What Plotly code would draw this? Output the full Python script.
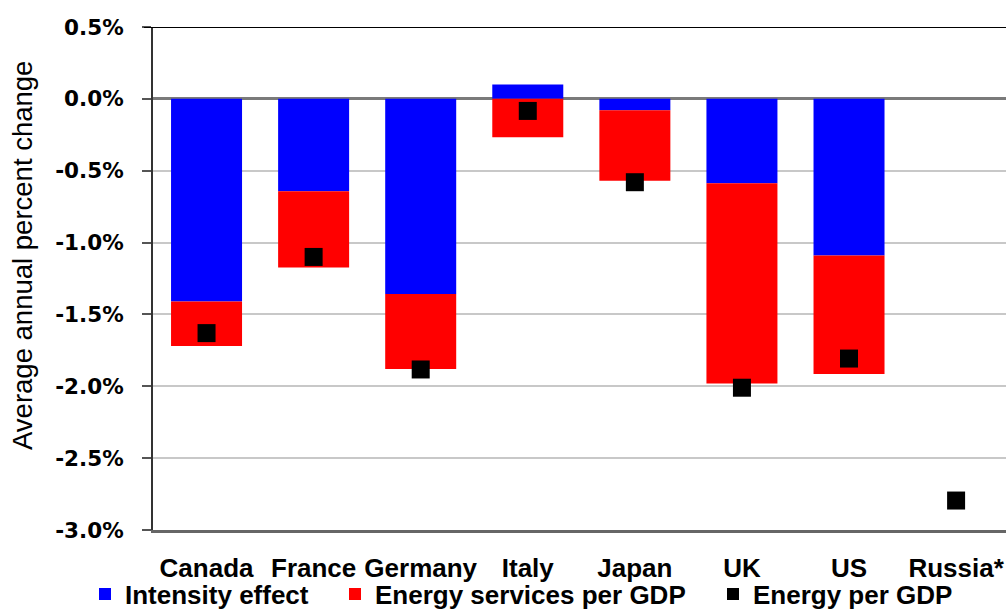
import plotly.graph_objects as go

# G7 + Russia: decomposition of the annual change in energy per GDP (%/yr)
countries = ["Canada", "France", "Germany", "Italy", "Japan", "UK", "US", "Russia*"]
intensity_effect = [-1.41, -0.643, -1.358, 0.10, -0.079, -0.588, -1.09, None]
energy_services_per_gdp = [-0.31, -0.531, -0.521, -0.267, -0.491, -1.392, -0.824, None]
energy_per_gdp = [-1.63, -1.10, -1.883, -0.084, -0.58, -2.01, -1.807, -2.795]

y_ticks = [0.5, 0.0, -0.5, -1.0, -1.5, -2.0, -2.5, -3.0]
y_tick_text = ["%.1f%%" % v for v in y_ticks]

W, H = 1006, 610
M_L, M_R, M_T, M_B = 153, 0, 27, 80

BOLD = "Liberation Sans"

fig = go.Figure()

fig.add_trace(go.Bar(
    x=countries, y=intensity_effect, name="Intensity effect",
    marker=dict(color="#0000FF", line=dict(width=0)),
    width=0.663, legend="legend",
))
fig.add_trace(go.Bar(
    x=countries, y=energy_services_per_gdp, name="Energy services per GDP",
    marker=dict(color="#FF0000", line=dict(width=0)),
    width=0.663, legend="legend2",
))
fig.add_trace(go.Scatter(
    x=countries, y=energy_per_gdp, name="Energy per GDP", mode="markers",
    marker=dict(symbol="square", size=18, color="#000000", line=dict(width=0)),
    legend="legend3",
))

legend_common = dict(
    orientation="h", xref="container", yref="container",
    yanchor="middle", xanchor="left", y=0.026,
    bgcolor="rgba(0,0,0,0)", borderwidth=0,
    font=dict(family=BOLD, size=26, color="#000000", weight="bold"),
    itemsizing="constant",
)

fig.update_layout(
    width=W, height=H,
    margin=dict(l=M_L, r=M_R, t=M_T, b=M_B, pad=0, autoexpand=False),
    paper_bgcolor="#FFFFFF", plot_bgcolor="#FFFFFF",
    barmode="relative", bargap=0.337,
    showlegend=True,
    legend=dict(legend_common, x=85 / W),
    legend2=dict(legend_common, x=335 / W),
    legend3=dict(legend_common, x=713 / W),
    xaxis=dict(
        type="category", range=[-0.5, 7.466],
        showgrid=False, zeroline=False,
        showline=True, linecolor="#666666", linewidth=2.5,
        ticks="", ticklabelstandoff=13,
        tickfont=dict(family=BOLD, size=26, color="#000000", weight="bold"),
    ),
    yaxis=dict(
        range=[-3.0, 0.5], tickvals=y_ticks, ticktext=y_tick_text,
        showgrid=True, gridcolor="#C8C8C8", gridwidth=1.5,
        zeroline=True, zerolinecolor="#7A7A7A", zerolinewidth=2.5,
        showline=True, linecolor="#333333", linewidth=2,
        ticks="outside", ticklen=9, tickwidth=1.5, tickcolor="#555555",
        ticklabelstandoff=14,
        tickfont=dict(family="DejaVu Sans", size=21.5, color="#000000", weight="bold"),
    ),
    shapes=[
        dict(type="line", xref="paper", yref="y", x0=-9 / (W - M_L - M_R), x1=1,
             y0=0.5, y1=0.5, line=dict(color="#000000", width=2)),
    ],
    annotations=[
        dict(text="Average annual percent change", textangle=-90,
             xref="paper", yref="paper", x=-131 / (W - M_L - M_R),
             y=(H - M_B - 256) / (H - M_T - M_B),
             xanchor="center", yanchor="middle", showarrow=False,
             font=dict(family="Liberation Sans", size=27.5, color="#000000")),
    ],
)

fig.write_html("out.html")
